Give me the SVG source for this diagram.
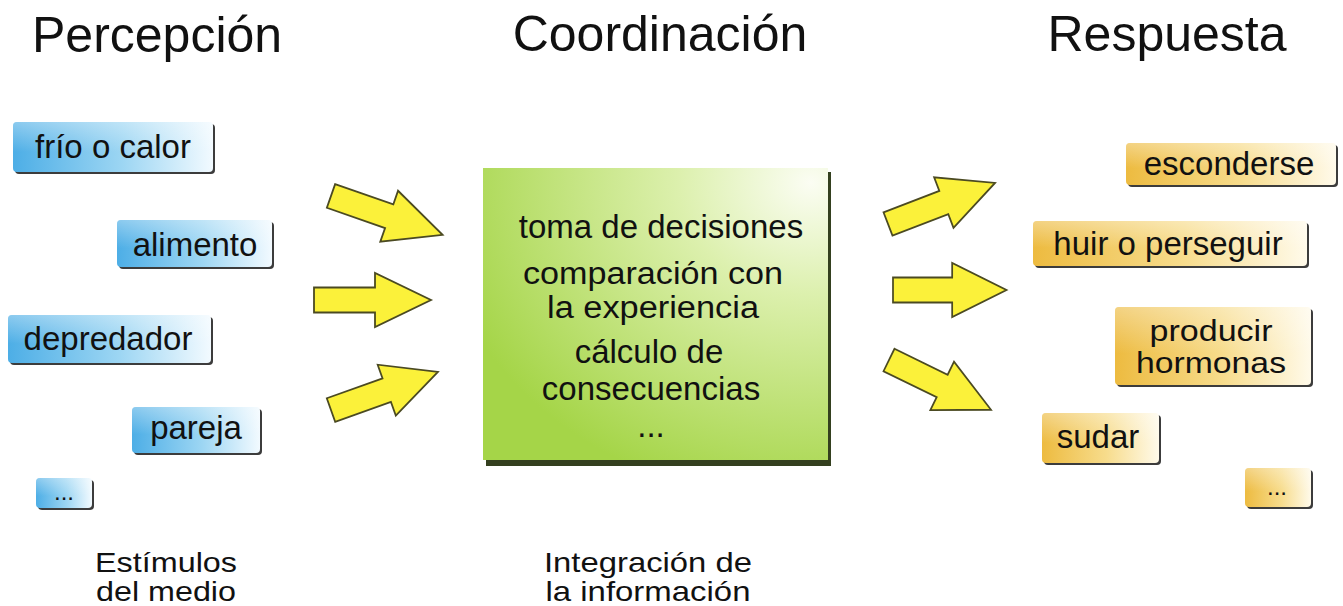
<svg xmlns="http://www.w3.org/2000/svg" width="1343" height="606" viewBox="0 0 1343 606">
<defs>
<linearGradient id="gBlue" x1="0" y1="0" x2="1" y2="0">
<stop offset="0" stop-color="#4daee6"/>
<stop offset="0.55" stop-color="#9dd6f3"/>
<stop offset="1" stop-color="#f2faff"/>
</linearGradient>
<linearGradient id="gOrange" x1="0" y1="0" x2="1" y2="0">
<stop offset="0" stop-color="#edbb40"/>
<stop offset="0.55" stop-color="#f7dc8c"/>
<stop offset="1" stop-color="#fffaea"/>
</linearGradient>
<linearGradient id="gGloss" x1="0" y1="0" x2="0" y2="1">
<stop offset="0" stop-color="#ffffff" stop-opacity="0.35"/>
<stop offset="0.6" stop-color="#ffffff" stop-opacity="0"/>
</linearGradient>
<radialGradient id="gGreen" cx="0.95" cy="0.05" r="1.1">
<stop offset="0" stop-color="#fbfdf3"/>
<stop offset="0.35" stop-color="#dcf0ad"/>
<stop offset="1" stop-color="#a5d548"/>
</radialGradient>
<path id="arrow" d="M0,-12.5 L61,-12.5 L61,-27 L117,0 L61,27 L61,12.5 L0,12.5 Z"/>
</defs>
<style>
.title{font-family:"Liberation Sans",Arial,sans-serif;font-size:50px;fill:#111;}
.lbl{font-family:"Liberation Sans",Arial,sans-serif;font-size:33px;fill:#111;text-anchor:middle;}
.cap{font-family:"Liberation Sans",Arial,sans-serif;font-size:28px;fill:#111;text-anchor:middle;}
.shadow{fill:#3c3c3c;}
.blue{fill:url(#gBlue);}
.orange{fill:url(#gOrange);}
.gloss{fill:url(#gGloss);}
.arr{fill:#fbf13a;stroke:#4b4a22;stroke-width:1.8;stroke-linejoin:miter;}
</style>
<rect width="1343" height="606" fill="#ffffff"/>

<g id="titles">
<text class="title" x="32" y="52">Percepción</text>
<text class="title" x="660" y="51" text-anchor="middle">Coordinación</text>
<text class="title" x="1167" y="51" text-anchor="middle">Respuesta</text>
</g>

<g id="stim-frio">
<rect class="shadow" x="15" y="124" width="200" height="50" rx="4"/>
<rect class="blue" x="13" y="122" width="200" height="50" rx="4"/>
<rect class="gloss" x="13" y="122" width="200" height="50" rx="4"/>
<text class="lbl" x="113" y="158">frío o calor</text>
</g>
<g id="stim-alimento">
<rect class="shadow" x="119" y="222" width="155" height="47" rx="4"/>
<rect class="blue" x="117" y="220" width="155" height="47" rx="4"/>
<rect class="gloss" x="117" y="220" width="155" height="47" rx="4"/>
<text class="lbl" x="195" y="256">alimento</text>
</g>
<g id="stim-depredador">
<rect class="shadow" x="10" y="317" width="203" height="48" rx="4"/>
<rect class="blue" x="8" y="315" width="203" height="48" rx="4"/>
<rect class="gloss" x="8" y="315" width="203" height="48" rx="4"/>
<text class="lbl" x="108" y="350">depredador</text>
</g>
<g id="stim-pareja">
<rect class="shadow" x="134" y="409" width="128" height="46" rx="4"/>
<rect class="blue" x="132" y="407" width="128" height="46" rx="4"/>
<rect class="gloss" x="132" y="407" width="128" height="46" rx="4"/>
<text class="lbl" x="196" y="439">pareja</text>
</g>
<g id="stim-etc">
<rect class="shadow" x="38" y="480" width="56" height="30" rx="4"/>
<rect class="blue" x="36" y="478" width="56" height="30" rx="4"/>
<rect class="gloss" x="36" y="478" width="56" height="30" rx="4"/>
<text class="lbl" x="64" y="500" style="font-size:24px">...</text>
</g>

<g id="coordinacion">
<rect x="486" y="172" width="345" height="294" fill="#34401f"/>
<rect x="483" y="168" width="345" height="292" fill="url(#gGreen)"/>
<text class="lbl" x="661" y="238">toma de decisiones</text>
<text class="lbl" x="653" y="284" style="font-size:31px" textLength="260" lengthAdjust="spacingAndGlyphs">comparación con</text>
<text class="lbl" x="653" y="318" style="font-size:31px" textLength="212" lengthAdjust="spacingAndGlyphs">la experiencia</text>
<text class="lbl" x="649" y="363">cálculo de</text>
<text class="lbl" x="651" y="400">consecuencias</text>
<text class="lbl" x="651" y="437">...</text>
</g>

<g id="resp-esconderse">
<rect class="shadow" x="1128" y="145" width="210" height="42" rx="4"/>
<rect class="orange" x="1126" y="143" width="210" height="42" rx="4"/>
<rect class="gloss" x="1126" y="143" width="210" height="42" rx="4"/>
<text class="lbl" x="1229" y="175">esconderse</text>
</g>
<g id="resp-huir">
<rect class="shadow" x="1035" y="223" width="274" height="45" rx="4"/>
<rect class="orange" x="1033" y="221" width="274" height="45" rx="4"/>
<rect class="gloss" x="1033" y="221" width="274" height="45" rx="4"/>
<text class="lbl" x="1168" y="255">huir o perseguir</text>
</g>
<g id="resp-hormonas">
<rect class="shadow" x="1117" y="309" width="196" height="78" rx="4"/>
<rect class="orange" x="1115" y="307" width="196" height="78" rx="4"/>
<rect class="gloss" x="1115" y="307" width="196" height="78" rx="4"/>
<text class="lbl" x="1211" y="341" style="font-size:30px" textLength="123" lengthAdjust="spacingAndGlyphs">producir</text>
<text class="lbl" x="1211" y="373" style="font-size:30px" textLength="150" lengthAdjust="spacingAndGlyphs">hormonas</text>
</g>
<g id="resp-sudar">
<rect class="shadow" x="1044" y="415" width="117" height="50" rx="4"/>
<rect class="orange" x="1042" y="413" width="117" height="50" rx="4"/>
<rect class="gloss" x="1042" y="413" width="117" height="50" rx="4"/>
<text class="lbl" x="1098" y="448">sudar</text>
</g>
<g id="resp-etc">
<rect class="shadow" x="1247" y="470" width="66" height="39" rx="4"/>
<rect class="orange" x="1245" y="468" width="66" height="39" rx="4"/>
<rect class="gloss" x="1245" y="468" width="66" height="39" rx="4"/>
<text class="lbl" x="1277" y="495" style="font-size:24px">...</text>
</g>

<g id="connectors">
<use href="#arrow" class="arr" transform="translate(331,196) rotate(19.2) scale(1.01,1)"/>
<use href="#arrow" class="arr" transform="translate(314,300) scale(1,1)"/>
<use href="#arrow" class="arr" transform="translate(331,410) rotate(-19.6) scale(0.97,1)"/>
<use href="#arrow" class="arr" transform="translate(888,224) rotate(-21) scale(0.98,1)"/>
<use href="#arrow" class="arr" transform="translate(893,290) scale(0.97,1)"/>
<use href="#arrow" class="arr" transform="translate(889,360) rotate(26) scale(0.97,1)"/>
</g>

<g id="captions">
<text class="cap" x="166" y="572" textLength="142" lengthAdjust="spacingAndGlyphs">Estímulos</text>
<text class="cap" x="166" y="601" textLength="140" lengthAdjust="spacingAndGlyphs">del medio</text>
<text class="cap" x="648" y="572" textLength="208" lengthAdjust="spacingAndGlyphs">Integración de</text>
<text class="cap" x="648" y="601" textLength="205" lengthAdjust="spacingAndGlyphs">la información</text>
</g>
</svg>
